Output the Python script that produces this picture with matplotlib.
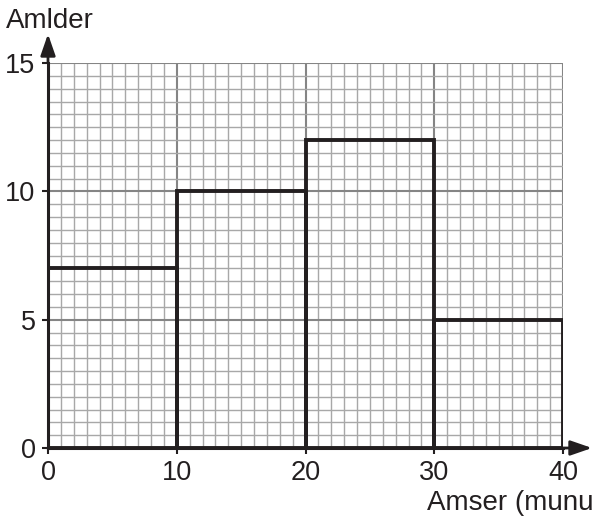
import matplotlib
matplotlib.use("Agg")
import matplotlib.pyplot as plt
from matplotlib.ticker import MultipleLocator

plt.rcParams['font.family'] = ['Liberation Sans', 'DejaVu Sans']

bin_edges = [0, 10, 20, 30]
bin_width = 10
frequencies = [7, 10, 12, 5]
x_ticks = [0, 10, 20, 30, 40]
y_ticks = [0, 5, 10, 15]
x_label = "Amser (munudau)"
y_label = "Amlder"

W, H = 592, 517
fig = plt.figure(figsize=(W / 100, H / 100), dpi=100)
x0, x1 = 48, 563
y0, y1 = 448, 63
ax = fig.add_axes([x0 / W, (H - y0) / H, (x1 - x0) / W, (y0 - y1) / H])
ax.set_xlim(0, 40)
ax.set_ylim(0, 15)

ax.xaxis.set_minor_locator(MultipleLocator(1))
ax.yaxis.set_minor_locator(MultipleLocator(0.5))
ax.set_xticks(x_ticks)
ax.set_yticks(y_ticks)
ax.grid(which='minor', color='#a8a8a8', lw=1.0)
ax.grid(which='major', color='#858585', lw=1.5)
ax.set_axisbelow(True)

ax.bar(bin_edges, frequencies, width=bin_width, align='edge', fill=False,
       edgecolor='#231f20', linewidth=2.8, zorder=3)

for s in ['top', 'right']:
    ax.spines[s].set_visible(False)
for s in ['left', 'bottom']:
    ax.spines[s].set_color('#231f20')
    ax.spines[s].set_linewidth(2.2)
    ax.spines[s].set_zorder(4)

ax.tick_params(which='minor', length=0)
ax.tick_params(which='major', length=4, width=1.5, color='#231f20',
               labelsize=19.5, labelcolor='#231f20', pad=5)

# arrows
ax.annotate('', xy=(592 / W, (H - 448) / H), xycoords='figure fraction',
            xytext=(40, 0), textcoords='data',
            arrowprops=dict(arrowstyle='-|>,head_length=1.3,head_width=0.45',
                            color='#231f20', lw=2, shrinkA=0, shrinkB=0))
ax.annotate('', xy=(48 / W, (H - 34) / H), xycoords='figure fraction',
            xytext=(0, 15), textcoords='data',
            arrowprops=dict(arrowstyle='-|>,head_length=1.3,head_width=0.45',
                            color='#231f20', lw=2, shrinkA=0, shrinkB=0))

fig.text(6 / W, (H - 28) / H, y_label, fontsize=20, color='#231f20',
         ha='left', va='baseline')
fig.text(427 / W, (H - 510) / H, x_label, fontsize=20, color='#231f20',
         ha='left', va='baseline')

fig.savefig('out.png', dpi=100)
